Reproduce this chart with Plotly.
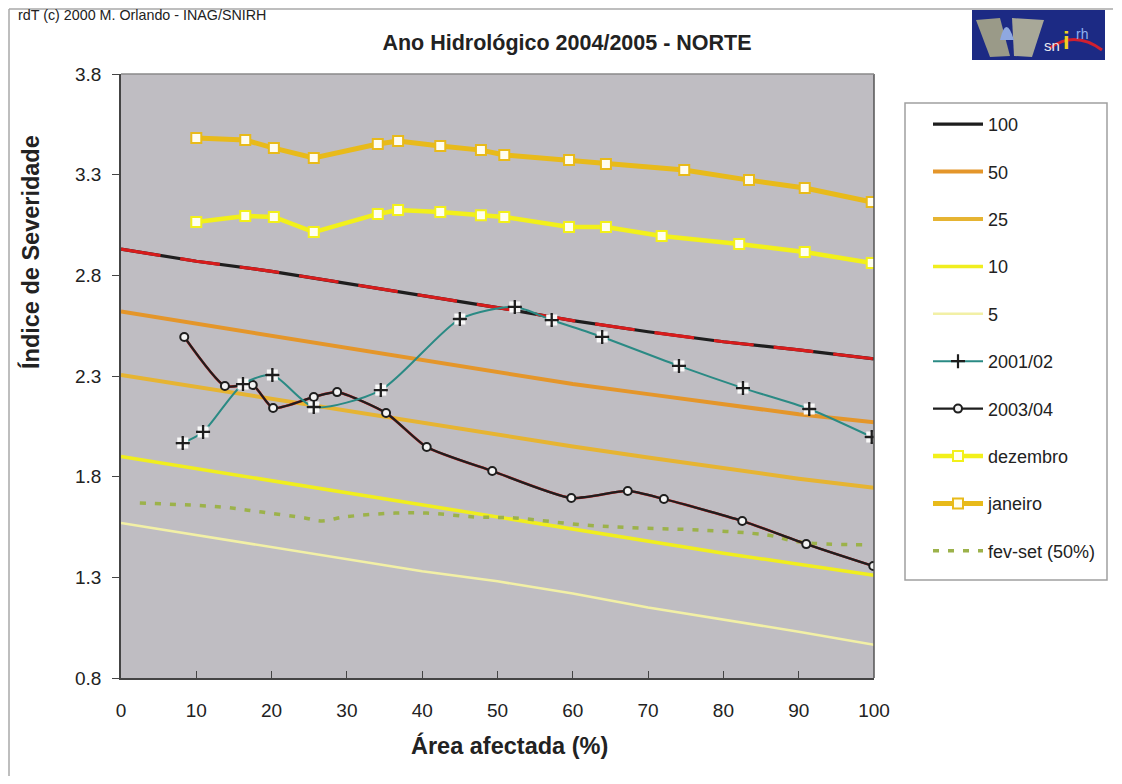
import plotly.graph_objects as go

# ---------------- data ----------------
x_ret = [0, 10, 20, 30, 40, 50, 60, 70, 80, 90, 100]
r100 = [2.93, 2.87, 2.82, 2.76, 2.70, 2.64, 2.575, 2.52, 2.47, 2.43, 2.385]
r50 = [2.62, 2.56, 2.50, 2.44, 2.38, 2.32, 2.26, 2.21, 2.16, 2.11, 2.07]
r25 = [2.305, 2.245, 2.185, 2.125, 2.065, 2.008, 1.95, 1.895, 1.84, 1.79, 1.745]
r10 = [1.90, 1.84, 1.78, 1.72, 1.66, 1.60, 1.54, 1.48, 1.42, 1.365, 1.31]
r5 = [1.57, 1.51, 1.45, 1.39, 1.33, 1.28, 1.22, 1.15, 1.09, 1.03, 0.965]

x_2001 = [8.2, 10.9, 16.2, 20.1, 25.6, 34.5, 45.0, 52.3, 57.2, 63.9, 74.1, 82.6, 91.4, 99.7]
y_2001 = [1.967, 2.022, 2.260, 2.305, 2.146, 2.230, 2.583, 2.643, 2.578, 2.494, 2.350, 2.240, 2.136, 1.997]

x_2003 = [8.4, 13.8, 17.5, 20.2, 25.6, 28.7, 35.2, 40.6, 49.3, 59.8, 67.3, 72.1, 82.5, 91.0, 99.9]
y_2003 = [2.494, 2.250, 2.255, 2.141, 2.196, 2.220, 2.116, 1.947, 1.828, 1.694, 1.729, 1.689, 1.580, 1.465, 1.356]

x_dez = [10.0, 16.5, 20.3, 25.6, 34.1, 36.8, 42.4, 47.8, 50.9, 59.5, 64.4, 71.8, 82.1, 90.8, 99.7]
y_dez = [3.065, 3.095, 3.090, 3.015, 3.105, 3.124, 3.114, 3.099, 3.090, 3.040, 3.040, 2.995, 2.956, 2.916, 2.861]

x_jan = [10.0, 16.5, 20.3, 25.6, 34.1, 36.8, 42.4, 47.8, 50.9, 59.5, 64.4, 74.8, 83.4, 90.8, 99.7]
y_jan = [3.482, 3.472, 3.432, 3.383, 3.452, 3.467, 3.442, 3.422, 3.398, 3.373, 3.353, 3.323, 3.273, 3.234, 3.164]

x_fev = [2.5, 13.4, 18.7, 24.4, 26.7, 29.7, 36.4, 40.6, 47.0, 52.3, 61.4, 68.9, 76.9, 85.8, 90.2, 99.1]
y_fev = [1.669, 1.649, 1.624, 1.595, 1.580, 1.600, 1.619, 1.619, 1.600, 1.595, 1.560, 1.545, 1.535, 1.510, 1.475, 1.461]

y_ticks = [0.8, 1.3, 1.8, 2.3, 2.8, 3.3, 3.8]
x_ticks = [0, 10, 20, 30, 40, 50, 60, 70, 80, 90, 100]

# ---------------- layout geometry ----------------
OFF = 8                      # page body margin
W, H = 1106, 768
L, R, T, B = 121 - OFF, 874 - OFF, 74 - OFF, 678 - OFF


def px(v):
    return (v - OFF - L) / (R - L)


def py(v):
    return (B - (v - OFF)) / (B - T)


FONT = "Liberation Sans, Arial, sans-serif"
fig = go.Figure()


def add(name, x, y, rank, **kw):
    fig.add_trace(go.Scatter(x=x, y=y, name=name, legendgroup=name,
                             legendrank=rank, **kw))


add("5", x_ret, r5, 5, mode="lines", line=dict(color="#F2F0A6", width=2.5))
add("10", x_ret, r10, 4, mode="lines", line=dict(color="#F0EE1E", width=3.5))
add("25", x_ret, r25, 3, mode="lines", line=dict(color="#E6B432", width=4))
add("50", x_ret, r50, 2, mode="lines", line=dict(color="#E4962A", width=4))
add("fev-set (50%)", x_fev, y_fev, 10, mode="lines",
    line=dict(color="#9CB24A", width=3.5, dash="6px,9px", shape="spline"))
add("100", x_ret, r100, 1, mode="lines", line=dict(color="#1E1E1E", width=3.2))
fig.add_trace(go.Scatter(x=x_ret, y=r100, mode="lines", showlegend=False,
                         legendgroup="100", hoverinfo="skip",
                         line=dict(color="#D81C1C", width=3.2, dash="40px,20px")))
add("janeiro", x_jan, y_jan, 9, mode="lines+markers",
    line=dict(color="#E8BA1A", width=5),
    marker=dict(symbol="square", size=10, color="#FFFDF0",
                line=dict(color="#E8BA1A", width=2)))
add("dezembro", x_dez, y_dez, 8, mode="lines+markers",
    line=dict(color="#F2F01A", width=4.5),
    marker=dict(symbol="square", size=10, color="#FFFFF0",
                line=dict(color="#F2F01A", width=2)))
fig.add_trace(go.Scatter(x=x_2003, y=y_2003, mode="lines", showlegend=False,
                         legendgroup="2003/04", hoverinfo="skip",
                         line=dict(color="#D02020", width=2.6, shape="spline",
                                   smoothing=0.6)))
add("2003/04", x_2003, y_2003, 7, mode="lines+markers",
    line=dict(color="#1E1E1E", width=2.2, shape="spline", smoothing=0.6),
    marker=dict(symbol="circle", size=8, color="#F4F4F4",
                line=dict(color="#1E1E1E", width=2)))
add("2001/02", x_2001, y_2001, 6, mode="lines+markers",
    line=dict(color="#2A8A84", width=2, shape="spline", smoothing=0.7),
    marker=dict(symbol="cross-thin", size=10, color="#1E1E1E",
                line=dict(color="#1E1E1E", width=2.2)))
fig.add_trace(go.Scatter(x=x_2001, y=y_2001, mode="markers", showlegend=False,
                         legendgroup="2001/02", hoverinfo="skip",
                         marker=dict(symbol="square", size=11, color="#F8F8F8",
                                     line=dict(width=0))))
fig.add_trace(go.Scatter(x=x_2001, y=y_2001, mode="markers", showlegend=False,
                         legendgroup="2001/02", hoverinfo="skip",
                         marker=dict(symbol="cross-thin", size=9, color="#1E1E1E",
                                     line=dict(color="#1E1E1E", width=2.3))))

shapes = [
    # legend box
    dict(type="rect", xref="paper", yref="paper", x0=px(905), x1=px(1107),
         y0=py(580), y1=py(103), line=dict(color="#A0A0A0", width=1.5),
         fillcolor="white", layer="below"),
    # figure frame lines
    dict(type="line", xref="paper", yref="paper", x0=px(9), x1=px(1113),
         y0=py(9), y1=py(9), line=dict(color="#A8A8A8", width=1.5)),
    dict(type="line", xref="paper", yref="paper", x0=px(9), x1=px(9),
         y0=py(9), y1=py(776), line=dict(color="#A8A8A8", width=1.5)),
    # logo
    dict(type="rect", xref="paper", yref="paper", x0=px(972), x1=px(1105),
         y0=py(60), y1=py(10), line=dict(color="#1A2480", width=0),
         fillcolor="#1C2A84"),
    dict(type="path", xref="paper", yref="paper",
         path=f"M {px(976)},{py(20)} L {px(1000)},{py(18)} L {px(1010)},{py(56)} L {px(990)},{py(57)} Z",
         fillcolor="#9A9A88", line=dict(width=0)),
    dict(type="path", xref="paper", yref="paper",
         path=f"M {px(1012)},{py(18)} L {px(1044)},{py(20)} L {px(1032)},{py(57)} L {px(1014)},{py(56)} Z",
         fillcolor="#A8A898", line=dict(width=0)),
    dict(type="path", xref="paper", yref="paper",
         path=f"M {px(1000)},{py(40)} Q {px(1006)},{py(14)} {px(1014)},{py(40)} Z",
         fillcolor="#8FA8E0", line=dict(width=0)),
    dict(type="path", xref="paper", yref="paper",
         path=f"M {px(1050)},{py(48)} Q {px(1075)},{py(30)} {px(1102)},{py(50)}",
         line=dict(color="#D02030", width=3)),
]

annotations = [
    dict(text="rdT (c) 2000 M. Orlando - INAG/SNIRH", xref="paper", yref="paper",
         x=px(16), y=py(15), xanchor="left", yanchor="middle", showarrow=False,
         font=dict(family=FONT, size=14.3, color="#222222")),
    dict(text="<b>Índice de Severidade</b>", xref="paper", yref="paper",
         x=px(31), y=py(252), xanchor="center", yanchor="middle", textangle=-90,
         showarrow=False, font=dict(family=FONT, size=23.5, color="#222222")),
    dict(text="<b>Área afectada (%)</b>", xref="paper", yref="paper",
         x=px(509), y=py(745), xanchor="center", yanchor="middle",
         showarrow=False, font=dict(family=FONT, size=23.5, color="#222222")),
    dict(text="sn", xref="paper", yref="paper", x=px(1052), y=py(46),
         xanchor="center", yanchor="middle", showarrow=False,
         font=dict(family=FONT, size=15, color="#E8E8F0")),
    dict(text="<b>i</b>", xref="paper", yref="paper", x=px(1066), y=py(40),
         xanchor="center", yanchor="middle", showarrow=False,
         font=dict(family=FONT, size=24, color="#F0D020")),
    dict(text="rh", xref="paper", yref="paper", x=px(1082), y=py(34),
         xanchor="center", yanchor="middle", showarrow=False,
         font=dict(family=FONT, size=14, color="#90B0F0")),
]

fig.update_layout(
    width=W, height=H,
    margin=dict(l=L, r=W - R, t=T, b=H - B, autoexpand=False),
    paper_bgcolor="white",
    plot_bgcolor="#BFBDC2",
    font=dict(family=FONT, size=19, color="#222222"),
    title=dict(text="<b>Ano Hidrológico 2004/2005 - NORTE</b>",
               x=px(567), xanchor="center", xref="paper",
               y=1 - (42 - OFF) / H, yanchor="middle",
               font=dict(family=FONT, size=21.5, color="#222222")),
    showlegend=True,
    legend=dict(x=px(928), y=py(106), xanchor="left", yanchor="top",
                bgcolor="rgba(0,0,0,0)", borderwidth=0,
                traceorder="grouped", tracegroupgap=21,
                itemwidth=50,
                font=dict(family=FONT, size=18, color="#222222")),
    shapes=shapes,
    annotations=annotations,
)

fig.update_xaxes(range=[0, 100], tickvals=x_ticks, ticks="inside", ticklen=7,
                 tickcolor="#444444", showgrid=False, zeroline=False,
                 showline=True, linecolor="#444444", linewidth=1.5,
                 ticklabelstandoff=14,
                 mirror=False, tickfont=dict(family=FONT, size=19))
fig.update_yaxes(range=[0.8, 3.8], tickvals=y_ticks, ticktext=[f"{v:.1f}" for v in y_ticks],
                 ticks="outside", ticklen=7, tickcolor="#444444",
                 showgrid=False, zeroline=False, showline=True,
                 linecolor="#444444", linewidth=1.5,
                 ticklabelstandoff=7,
                 tickfont=dict(family=FONT, size=19))
# right / top plot frame
fig.add_shape(type="line", xref="paper", yref="paper", x0=1, x1=1, y0=0, y1=1,
              line=dict(color="#555555", width=1.5))
fig.add_shape(type="line", xref="paper", yref="paper", x0=0, x1=1, y0=1, y1=1,
              line=dict(color="#8A8A8A", width=1.5))

fig.write_html("out.html")
